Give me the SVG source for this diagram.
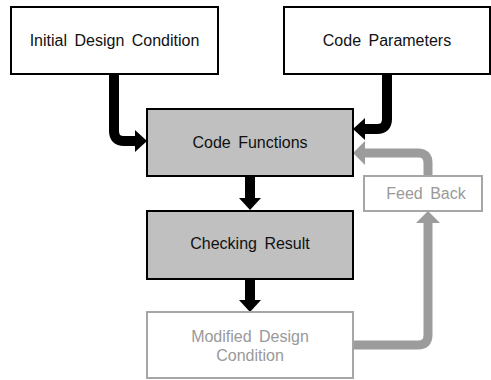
<svg xmlns="http://www.w3.org/2000/svg" width="491" height="380" viewBox="0 0 491 380">
  <style>
    .box { fill: #ffffff; stroke: #000000; stroke-width: 2; }
    .proc { fill: #c0c0c0; stroke: #000000; stroke-width: 2; }
    .soft { fill: #ffffff; stroke: #a6a6a6; stroke-width: 2; }
    .lbl { font-family: "Liberation Sans", Arial, sans-serif; font-size: 16px; fill: #111111; text-anchor: middle; word-spacing: 3px; }
    .lbl-soft { font-family: "Liberation Sans", Arial, sans-serif; font-size: 16px; fill: #999999; text-anchor: middle; word-spacing: 3px; }
    .flow { fill: none; stroke: #000000; stroke-width: 10; }
    .back { fill: none; stroke: #9c9c9c; stroke-width: 9; }
  </style>
  <defs>
    <marker id="head-dark" markerUnits="userSpaceOnUse" markerWidth="12" markerHeight="22" refX="0" refY="11" orient="auto" overflow="visible">
      <path d="M0,0 L12,11 L0,22 Z" fill="#000000"/>
    </marker>
    <marker id="head-soft" markerUnits="userSpaceOnUse" markerWidth="12" markerHeight="24" refX="0" refY="12" orient="auto" overflow="visible">
      <path d="M0,0 L12,12 L0,24 Z" fill="#9c9c9c"/>
    </marker>
  </defs>

  <g id="connectors">
    <path class="flow" d="M114,74 V131 Q114,141 124,141 H135" marker-end="url(#head-dark)"/>
    <path class="flow" d="M387,74 V119 Q387,129 377,129 H365" marker-end="url(#head-dark)"/>
    <path class="flow" d="M250,177 V198" marker-end="url(#head-dark)"/>
    <path class="flow" d="M250,280 V300" marker-end="url(#head-dark)"/>
    <path class="back" d="M354,345 H418 Q428,345 428,335 V223" marker-end="url(#head-soft)"/>
    <path class="back" d="M428,176 V163 Q428,153 418,153 H365" marker-end="url(#head-soft)"/>
  </g>

  <g id="initial-design-condition">
    <rect class="box" x="11" y="7" width="207" height="67"/>
    <text class="lbl" x="114.5" y="46">Initial Design Condition</text>
  </g>

  <g id="code-parameters">
    <rect class="box" x="284" y="7" width="206" height="67"/>
    <text class="lbl" x="387" y="46">Code Parameters</text>
  </g>

  <g id="code-functions">
    <rect class="proc" x="147" y="109" width="206" height="67"/>
    <text class="lbl" x="250" y="148">Code Functions</text>
  </g>

  <g id="checking-result">
    <rect class="proc" x="147" y="211" width="206" height="68"/>
    <text class="lbl" x="250" y="249">Checking Result</text>
  </g>

  <g id="modified-design-condition">
    <rect class="soft" x="147" y="312" width="206" height="66"/>
    <text class="lbl-soft" x="250" y="342">Modified Design</text>
    <text class="lbl-soft" x="250" y="361">Condition</text>
  </g>

  <g id="feed-back">
    <rect class="soft" x="364" y="176" width="118" height="35"/>
    <text class="lbl-soft" x="426" y="199">Feed Back</text>
  </g>
</svg>
